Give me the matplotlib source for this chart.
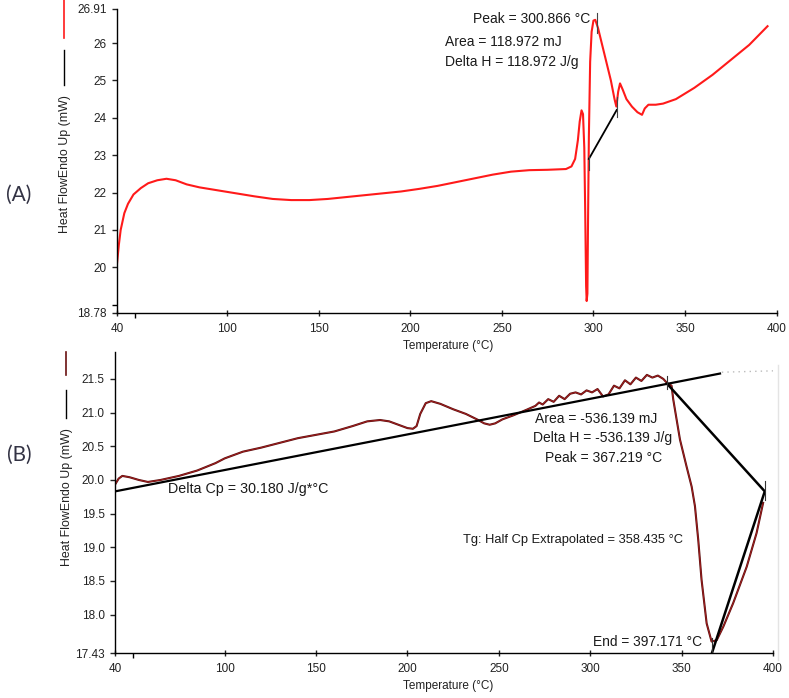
import matplotlib
matplotlib.use("Agg")
import matplotlib.pyplot as plt
from matplotlib.lines import Line2D

plt.rcParams["font.family"] = ["Liberation Sans", "DejaVu Sans"]

# ---- panel A: DSC trace (red) ----
a_temp = [40, 41, 42, 44, 46, 49, 53, 57, 62, 67, 72, 78, 85, 95, 105, 115, 125, 135, 145,
          155, 165, 175, 185, 195, 205, 215, 225, 235, 245, 255, 265, 275, 285, 288, 290,
          291.5, 292.5, 293.5, 294.3, 295.0, 295.5, 296.0, 296.3, 296.7, 297.0, 297.5, 298.2,
          299.0, 300.0, 301.0, 302.5, 304.5, 307, 309.5, 311.5, 312.5, 313.5, 314.5, 316, 318,
          321, 324, 326.5, 328, 330, 334, 338, 345, 355, 365, 375, 385, 395]
a_flow = [20.1, 20.6, 21.0, 21.45, 21.7, 21.95, 22.12, 22.25, 22.33, 22.37, 22.33, 22.22, 22.14,
          22.06, 21.98, 21.9, 21.83, 21.8, 21.8, 21.83, 21.88, 21.93, 21.98, 22.03, 22.1, 22.18,
          22.28, 22.38, 22.48, 22.56, 22.6, 22.61, 22.63, 22.7, 22.9, 23.4, 23.9, 24.2, 24.1,
          23.2, 21.5, 19.5, 19.1, 19.3, 21.0, 23.5, 25.5, 26.3, 26.6, 26.62, 26.4, 26.0, 25.5,
          25.0, 24.5, 24.3, 24.7, 24.92, 24.75, 24.5, 24.3, 24.15, 24.08, 24.25, 24.35, 24.35,
          24.38, 24.5, 24.8, 25.15, 25.55, 25.95, 26.45]
a_base_t = [297.5, 312.7]
a_base_v = [22.9, 24.21]
a_yticks = [18.78, 20, 21, 22, 23, 24, 25, 26, 26.91]
a_ylabels = ["18.78", "20", "21", "22", "23", "24", "25", "26", "26.91"]

# ---- panel B: DSC trace (dark red) ----
b_temp = [40, 42, 44, 48, 53, 58, 65, 75, 85, 95, 100, 110, 120, 130, 140, 150, 160, 170, 178,
          185, 190, 195, 200, 203, 205, 207, 210, 213, 218, 225, 232, 238, 242, 245, 248, 252,
          258, 265, 270, 272, 274, 277, 280, 283, 286, 289, 292, 295, 298, 301, 304, 307, 310,
          313, 316, 319, 322, 325, 328, 331, 334, 337, 340, 342, 344.5, 345.4, 349.1, 352.7,
          355.5, 357.3, 359.1, 360.9, 363.7, 366.4, 369.2, 372.8, 378.2, 385.6, 391.0, 394.6]
b_flow = [19.93, 20.02, 20.06, 20.04, 20.0, 19.97, 20.0, 20.06, 20.14, 20.25, 20.32, 20.42,
          20.48, 20.55, 20.62, 20.67, 20.72, 20.8, 20.87, 20.89, 20.87, 20.82, 20.77, 20.76,
          20.8, 20.98, 21.14, 21.17, 21.13, 21.05, 20.98, 20.9, 20.84, 20.82, 20.84, 20.9,
          20.96, 21.04, 21.1, 21.15, 21.12, 21.2, 21.16, 21.25, 21.2, 21.28, 21.3, 21.27, 21.33,
          21.3, 21.35, 21.24, 21.27, 21.4, 21.36, 21.48, 21.42, 21.52, 21.47, 21.56, 21.52,
          21.55, 21.5, 21.44, 21.4, 21.2, 20.6, 20.2, 19.9, 19.61, 19.11, 18.52, 17.87, 17.6,
          17.62, 17.82, 18.17, 18.71, 19.21, 19.66]
b_base_t = [40, 371]
b_base_v = [19.83, 21.58]
b_ext_t = [372, 400]
b_ext_v = [21.6, 21.62]
b_sweep_t = [342, 395.5, 366.6]
b_sweep_v = [21.43, 19.83, 17.43]
b_yticks = [17.43, 18.0, 18.5, 19.0, 19.5, 20.0, 20.5, 21.0, 21.5]
b_ylabels = ["17.43", "18.0", "18.5", "19.0", "19.5", "20.0", "20.5", "21.0", "21.5"]

x_ticks = [40, 100, 150, 200, 250, 300, 350, 400]

W, H = 789, 698
fig = plt.figure(figsize=(W / 100, H / 100), dpi=100)


def fx(px):
    return px / W


def fy(py):
    return 1 - py / H


def style_axes(ax, yticks, ylabels):
    for s in ("top", "right"):
        ax.spines[s].set_visible(False)
    for s in ("left", "bottom"):
        ax.spines[s].set_linewidth(1.0)
    ax.set_xlim(40, 400)
    ax.set_xticks(x_ticks)
    ax.set_xticks([50], minor=True)
    ax.set_yticks(yticks)
    ax.set_yticklabels(ylabels)
    ax.tick_params(axis="both", labelsize=8.5, length=3.5, width=1.0, pad=4, colors="#222222")
    ax.tick_params(axis="x", direction="inout", length=5, pad=5)
    ax.tick_params(which="minor", length=3.5, width=1.0)


# panel A
axA = fig.add_axes([fx(117), fy(313), fx(776.7 - 117), (313 - 9) / H])
axA.plot(a_temp, a_flow, color="#ff1a1a", lw=1.5)
axA.plot(a_base_t, a_base_v, color="black", lw=1.3)
axA.plot([a_base_t[0]] * 2, [22.6, 22.97], color="#444444", lw=0.8)
axA.plot([a_base_t[1]] * 2, [24.03, 24.56], color="#444444", lw=0.8)
axA.plot([302, 302], [26.26, 26.8], color="#444444", lw=0.8)
axA.set_ylim(18.78, 26.91)
style_axes(axA, a_yticks, a_ylabels)
axA.set_yticks([19], minor=True)
tc = "#1a1a1a"
axA.text(298, 26.64, "Peak = 300.866 °C", ha="right", va="center", fontsize=10, color=tc)
axA.text(219, 26.02, "Area = 118.972 mJ", ha="left", va="center", fontsize=10, color=tc)
axA.text(219, 25.49, "Delta H = 118.972 J/g", ha="left", va="center", fontsize=10, color=tc)

# panel B
axB = fig.add_axes([fx(115), fy(653), fx(773 - 115), (653 - 352) / H])
axB.plot(b_ext_t, b_ext_v, color="#bbbbbb", lw=1.0, ls=(0, (1, 3)))
axB.plot(b_temp, b_flow, color="#5a0f0f", lw=1.5)
axB.plot(b_temp, b_flow, color="#a82020", lw=0.6)
axB.plot(b_base_t, b_base_v, color="black", lw=1.6)
axB.plot(b_sweep_t, b_sweep_v, color="black", lw=1.8)
axB.plot([342, 342], [21.35, 21.55], color="#333333", lw=0.8)
axB.plot([395.5, 395.5], [19.7, 19.98], color="#333333", lw=0.8)
axB.plot([366.6, 366.6], [17.43, 17.65], color="#333333", lw=0.8)
axB.set_ylim(17.43, 21.9)
style_axes(axB, b_yticks, b_ylabels)
axB.text(69, 19.86, "Delta Cp = 30.180 J/g*°C", ha="left", va="center", fontsize=10.3, color=tc)
axB.text(303, 20.9, "Area = -536.139 mJ", ha="center", va="center", fontsize=10, color=tc)
axB.text(307, 20.63, "Delta H = -536.139 J/g", ha="center", va="center", fontsize=10, color=tc)
axB.text(307.5, 20.33, "Peak = 367.219 °C", ha="center", va="center", fontsize=10, color=tc)
axB.text(290.8, 19.11, "Tg: Half Cp Extrapolated = 358.435 °C", ha="center", va="center",
         fontsize=9.3, color=tc)
axB.text(331.3, 17.6, "End = 397.171 °C", ha="center", va="center", fontsize=9.9, color=tc)

# faint right border of panel B
fig.add_artist(Line2D([fx(778), fx(778)], [fy(365), fy(660)], transform=fig.transFigure,
                      color="#e4e4e4", lw=1.0))

# axis labels with the line-sample marks
for xc, ymid, red_seg, blk_seg, red_col in (
        (65, 164, (0, 38), (50, 85), "#ff1a1a"),
        (67, 497, (352, 375), (390, 418), "#6a1010")):
    fig.text(fx(xc), fy(ymid), "Heat FlowEndo Up (mW)", rotation=90, ha="center", va="center",
             fontsize=8.9, color="#222222")
    fig.add_artist(Line2D([fx(xc - 1)] * 2, [fy(red_seg[0]), fy(red_seg[1])],
                          transform=fig.transFigure, color=red_col, lw=1.2))
    fig.add_artist(Line2D([fx(xc - 1)] * 2, [fy(blk_seg[0]), fy(blk_seg[1])],
                          transform=fig.transFigure, color="black", lw=1.0))

fig.text(fx(448), fy(346), "Temperature (°C)", ha="center", va="center", fontsize=8.5, color="#222222")
fig.text(fx(448), fy(686), "Temperature (°C)", ha="center", va="center", fontsize=8.5, color="#222222")

fig.text(fx(19), fy(195), "(A)", ha="center", va="center", fontsize=15, color="#333344",
         family=["Lato", "DejaVu Sans"])
fig.text(fx(19), fy(455), "(B)", ha="center", va="center", fontsize=15, color="#333344",
         family=["Lato", "DejaVu Sans"])

fig.savefig("out.png", dpi=100)
